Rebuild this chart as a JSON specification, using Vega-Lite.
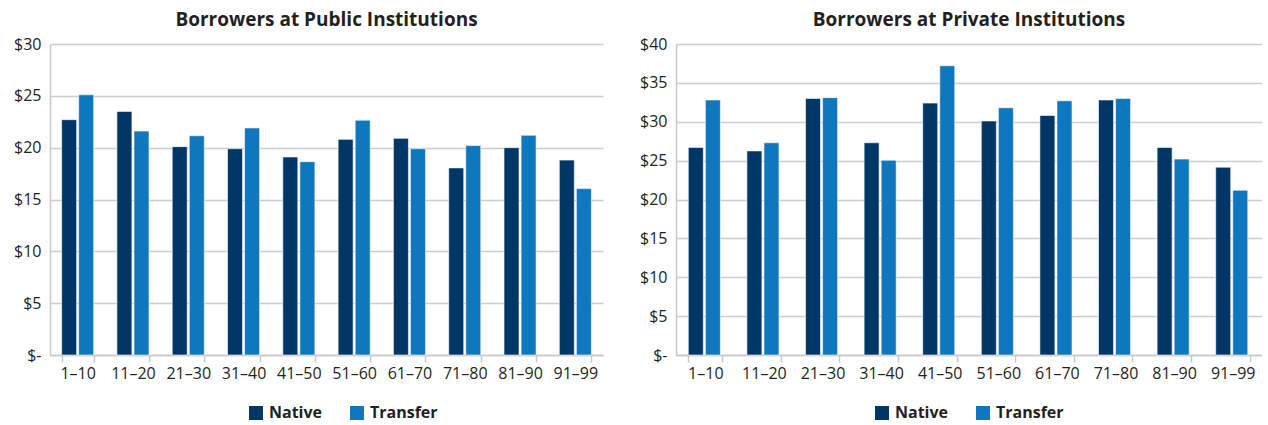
{
  "$schema": "https://vega.github.io/schema/vega-lite/v6.json",
  "background": "white",
  "padding": {"left": 13, "top": 11, "right": 0, "bottom": 4},
  "spacing": 36,
  "config": {
    "font": "Open Sans",
    "view": {"stroke": null},
    "title": {"fontSize": 19, "fontWeight": "bold", "color": "#231f20", "anchor": "middle", "offset": 6},
    "axis": {"labelFont": "Open Sans", "labelColor": "#231f20", "labelFontSize": 16, "domainColor": "#c8c8c8", "domainWidth": 1.5, "gridColor": "#cccccc", "gridWidth": 1.5, "tickColor": "#c8c8c8", "tickWidth": 1.5, "title": null},
    "legend": {"padding": 0}
  },
  "resolve": {"scale": {"color": "independent", "y": "independent"}, "legend": {"color": "independent"}},
  "hconcat": [
    {
      "width": 553,
      "height": 311,
      "title": "Borrowers at Public Institutions",
      "data": {"values": [
        {"group": "1–10", "type": "Native", "value": 22.7},
        {"group": "1–10", "type": "Transfer", "value": 25.1},
        {"group": "11–20", "type": "Native", "value": 23.5},
        {"group": "11–20", "type": "Transfer", "value": 21.6},
        {"group": "21–30", "type": "Native", "value": 20.1},
        {"group": "21–30", "type": "Transfer", "value": 21.15},
        {"group": "31–40", "type": "Native", "value": 19.9},
        {"group": "31–40", "type": "Transfer", "value": 21.9},
        {"group": "41–50", "type": "Native", "value": 19.1},
        {"group": "41–50", "type": "Transfer", "value": 18.65},
        {"group": "51–60", "type": "Native", "value": 20.8},
        {"group": "51–60", "type": "Transfer", "value": 22.65},
        {"group": "61–70", "type": "Native", "value": 20.9},
        {"group": "61–70", "type": "Transfer", "value": 19.9},
        {"group": "71–80", "type": "Native", "value": 18.05},
        {"group": "71–80", "type": "Transfer", "value": 20.2},
        {"group": "81–90", "type": "Native", "value": 20.0},
        {"group": "81–90", "type": "Transfer", "value": 21.2},
        {"group": "91–99", "type": "Native", "value": 18.8},
        {"group": "91–99", "type": "Transfer", "value": 16.05}
      ]},
      "mark": {"type": "bar", "stroke": "white", "strokeWidth": 0.6},
      "encoding": {
        "x": {"field": "group", "type": "nominal", "sort": null,
              "scale": {"paddingInner": 0.42, "paddingOuter": 0.21},
              "axis": {"labelAngle": 0, "tickBand": "extent", "tickSize": 7, "labelPadding": 3, "grid": false}},
        "xOffset": {"field": "type", "type": "nominal", "scale": {"paddingInner": 0.12}},
        "y": {"field": "value", "type": "quantitative",
              "scale": {"domain": [0, 30]},
              "axis": {"values": [0, 5, 10, 15, 20, 25, 30], "tickSize": 0, "labelPadding": 9,
                       "labelExpr": "datum.value == 0 ? '$-' : '$' + datum.value"}},
        "color": {"field": "type", "type": "nominal",
                  "scale": {"domain": ["Native", "Transfer"], "range": ["#003767", "#0e77bd"]},
                  "legend": {"orient": "none", "legendX": 198, "legendY": 361, "direction": "horizontal", "title": null, "symbolType": "square", "symbolSize": 196, "symbolStrokeWidth": 0, "labelFontSize": 16, "labelFontWeight": "bold", "labelColor": "#231f20", "labelFont": "Open Sans", "columnPadding": 26, "labelOffset": 5}}
      }
    },
    {
      "width": 586,
      "height": 311,
      "title": "Borrowers at Private Institutions",
      "data": {"values": [
        {"group": "1–10", "type": "Native", "value": 26.7},
        {"group": "1–10", "type": "Transfer", "value": 32.8},
        {"group": "11–20", "type": "Native", "value": 26.25},
        {"group": "11–20", "type": "Transfer", "value": 27.3},
        {"group": "21–30", "type": "Native", "value": 33.0},
        {"group": "21–30", "type": "Transfer", "value": 33.1},
        {"group": "31–40", "type": "Native", "value": 27.3},
        {"group": "31–40", "type": "Transfer", "value": 25.05},
        {"group": "41–50", "type": "Native", "value": 32.4},
        {"group": "41–50", "type": "Transfer", "value": 37.2},
        {"group": "51–60", "type": "Native", "value": 30.1},
        {"group": "51–60", "type": "Transfer", "value": 31.8},
        {"group": "61–70", "type": "Native", "value": 30.8},
        {"group": "61–70", "type": "Transfer", "value": 32.7},
        {"group": "71–80", "type": "Native", "value": 32.8},
        {"group": "71–80", "type": "Transfer", "value": 33.0},
        {"group": "81–90", "type": "Native", "value": 26.7},
        {"group": "81–90", "type": "Transfer", "value": 25.2},
        {"group": "91–99", "type": "Native", "value": 24.15},
        {"group": "91–99", "type": "Transfer", "value": 21.2}
      ]},
      "mark": {"type": "bar", "stroke": "white", "strokeWidth": 0.6},
      "encoding": {
        "x": {"field": "group", "type": "nominal", "sort": null,
              "scale": {"paddingInner": 0.42, "paddingOuter": 0.21},
              "axis": {"labelAngle": 0, "tickBand": "extent", "tickSize": 7, "labelPadding": 3, "grid": false}},
        "xOffset": {"field": "type", "type": "nominal", "scale": {"paddingInner": 0.12}},
        "y": {"field": "value", "type": "quantitative",
              "scale": {"domain": [0, 40]},
              "axis": {"values": [0, 5, 10, 15, 20, 25, 30, 35, 40], "tickSize": 0, "labelPadding": 9,
                       "labelExpr": "datum.value == 0 ? '$-' : '$' + datum.value"}},
        "color": {"field": "type", "type": "nominal",
                  "scale": {"domain": ["Native", "Transfer"], "range": ["#003767", "#0e77bd"]},
                  "legend": {"orient": "none", "legendX": 198, "legendY": 361, "direction": "horizontal", "title": null, "symbolType": "square", "symbolSize": 196, "symbolStrokeWidth": 0, "labelFontSize": 16, "labelFontWeight": "bold", "labelColor": "#231f20", "labelFont": "Open Sans", "columnPadding": 26, "labelOffset": 5}}
      }
    }
  ]
}
